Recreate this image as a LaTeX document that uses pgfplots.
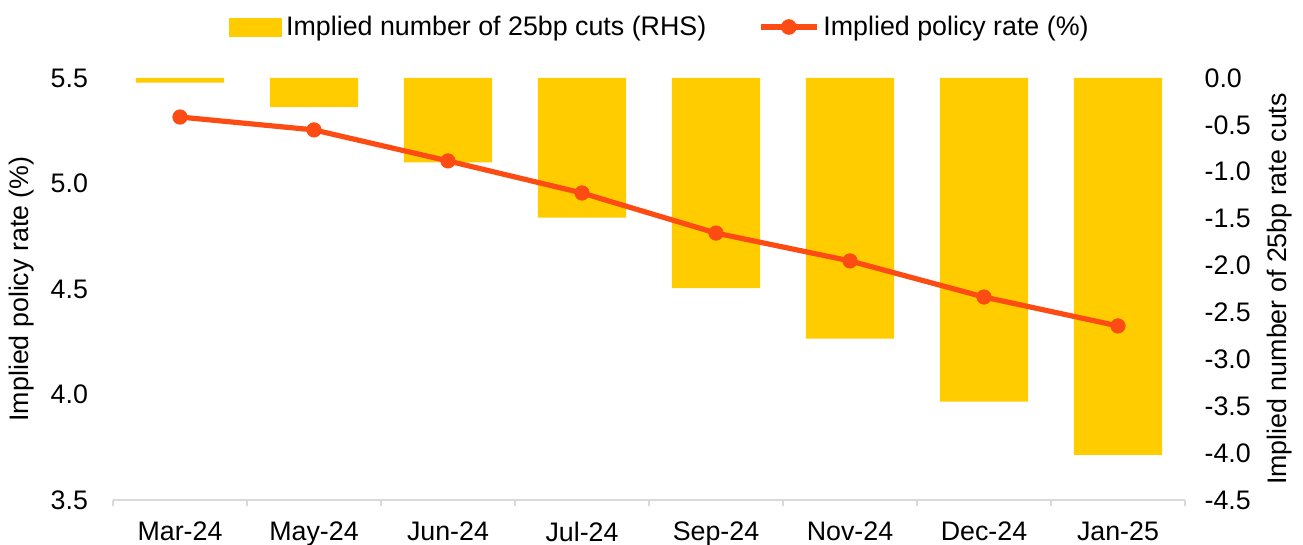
\documentclass[border=0pt]{standalone}
\usepackage{fontspec}
\setmainfont{Liberation Sans}
\usepackage{pgfplots}
\pgfplotsset{compat=1.18}
\definecolor{barcol}{RGB}{255,204,0}
\definecolor{linecol}{RGB}{252,76,20}
\definecolor{axgray}{RGB}{217,217,217}
\begin{document}
\begin{tikzpicture}[font=\fontsize{13.4}{16}\selectfont]
\useasboundingbox (-56.5pt,-22.5pt) rectangle (595pt,250pt);
\begin{axis}[
  scale only axis, width=536pt, height=211pt,
  xmin=-0.5, xmax=7.5, ymin=-4.5, ymax=0,
  axis y line*=right, axis x line*=bottom,
  x axis line style={draw=axgray, line width=0.8pt},
  y axis line style={draw=none},
  xtick={0,...,7},
  xticklabels={Mar-24,May-24,Jun-24,Jul-24,Sep-24,Nov-24,Dec-24,Jan-25},
  xticklabel style={yshift=-3pt},
  major x tick style={draw=none},
  minor xtick={-0.5,0.5,...,7.5},
  minor x tick style={draw=axgray, line width=0.8pt},
  minor tick length=3pt,
  tick align=outside,
  ytick={-4.5,-4,...,0},
  major y tick style={draw=none},
  /pgf/number format/assume math mode=true,
  yticklabel style={xshift=2pt, /pgf/number format/.cd, fixed, fixed zerofill, precision=1},
  ylabel={Implied number of 25bp rate cuts},
  ylabel style={at={(axis description cs:1.0886,0.5)}, anchor=center},
  ybar, bar width=0.66,
]
\addplot[fill=barcol, draw=none] coordinates {
(0,-0.05) (1,-0.31) (2,-0.90) (3,-1.49) (4,-2.24) (5,-2.78) (6,-3.45) (7,-4.02)};
\end{axis}
\begin{axis}[
  scale only axis, width=536pt, height=211pt,
  xmin=-0.5, xmax=7.5, ymin=3.5, ymax=5.5,
  axis x line=none, axis y line*=left,
  y axis line style={draw=none},
  ytick={3.5,4,...,5.5},
  major y tick style={draw=none},
  /pgf/number format/assume math mode=true,
  yticklabel style={xshift=-9pt, /pgf/number format/.cd, fixed, fixed zerofill, precision=1},
  ylabel={Implied policy rate (\%)},
  ylabel style={at={(axis description cs:-0.0849,0.5)}, anchor=center},
  legend columns=2,
  legend style={draw=none, fill=none, at={(0.5,1)}, anchor=center, yshift=25.5pt, xshift=6pt,
    /tikz/every even column/.append style={column sep=24pt}},
]
\addlegendimage{legend image code/.code={\fill[barcol] (0pt,-4.5pt) rectangle (26pt,4.5pt);}}
\addlegendentry{Implied number of 25bp cuts (RHS)}
\addlegendimage{legend image code/.code={\draw[linecol, line width=2.6pt] (0pt,0pt) -- (28pt,0pt); \fill[linecol] (14pt,0pt) circle (3.7pt);}}
\addlegendentry{Implied policy rate (\%)}
\addplot[linecol, line width=2.6pt, mark=*, mark size=3.6pt, mark options={fill=linecol, draw=linecol, line width=0.4pt}] coordinates {
(0,5.315) (1,5.254) (2,5.107) (3,4.955) (4,4.765) (5,4.633) (6,4.462) (7,4.325)};
\end{axis}
\end{tikzpicture}
\end{document}
